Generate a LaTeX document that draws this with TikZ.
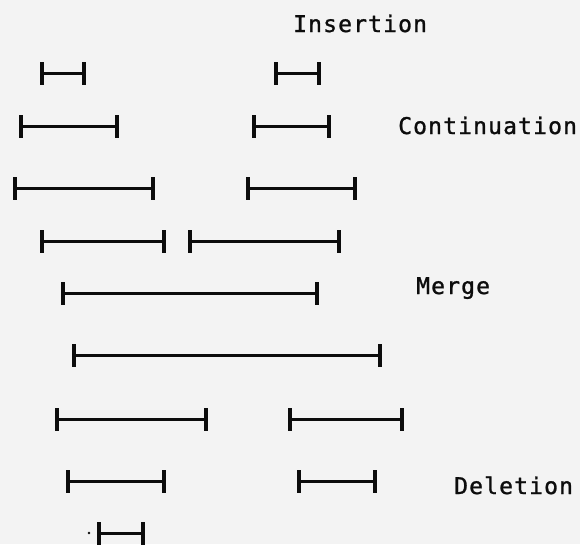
\documentclass[tikz,border=0pt]{standalone}
\usepackage{fontspec}
\newfontfamily\labfont[LetterSpace=5,FakeBold=1.2]{DejaVu Sans Mono}
\definecolor{paper}{RGB}{243,243,243}
\definecolor{ink}{RGB}{12,12,12}
\tikzset{
  seg/.style={draw=ink, line width=3pt},
  tick/.style={draw=ink, line width=3.5pt},
  lab/.style={anchor=base west, inner sep=0pt, text=ink, font=\labfont\fontsize{23}{23}\selectfont},
}
\begin{document}
\begin{tikzpicture}[x=1pt,y=-1pt]
\fill[paper] (0,0) rectangle (580,544);
\useasboundingbox (0,0) rectangle (580,544);
% segment end points
\foreach \n/\a/\b/\y in {
  r1a/42/84/73, r1b/276/319/73,
  r2a/21/117/126, r2b/254/329/126,
  r3a/15/153/188, r3b/248/355/188,
  r4a/42/164/241, r4b/190/339/241,
  r5a/63/317/293,
  r6a/74/380/355,
  r7a/57/206/419, r7b/290/402/419,
  r8a/68/164/481, r8b/299/375/481,
  r9a/99/143/533}{
  \coordinate (\n-l) at (\a,\y);
  \coordinate (\n-r) at (\b,\y);
  \draw[seg] (\n-l) -- (\n-r);
  \draw[tick] ([yshift=-11.5pt]\n-l) -- ([yshift=11.5pt]\n-l);
  \draw[tick] ([yshift=-11.5pt]\n-r) -- ([yshift=11.5pt]\n-r);
}
\coordinate (dot) at (89,533);
\fill[ink] (dot) circle (1.4pt);
% labels
\node[lab] (ins) at (293,32) {Insertion};
\node[lab] (cont) at (398,134) {Continuation};
\node[lab] (mer) at (416,294) {Merge};
\node[lab] (del) at (454,494) {Deletion};
\end{tikzpicture}
\end{document}
